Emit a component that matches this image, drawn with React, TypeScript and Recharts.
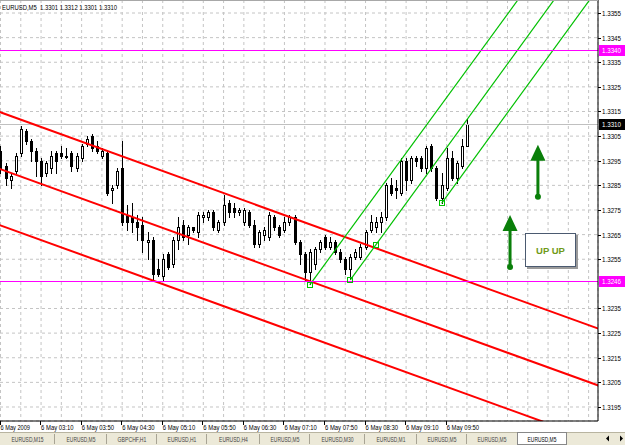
import React from "react";
import {
  ComposedChart,
  Bar,
  XAxis,
  YAxis,
  CartesianGrid,
  ReferenceLine,
  ReferenceDot,
} from "recharts";

const symbol = "EURUSD,M5";

// 5-minute bars, 6 May 2009 02:30 -> 10:10
const opens = [
  1.3299, 1.3293, 1.3287, 1.3291, 1.3298, 1.3307, 1.3303, 1.3299, 1.3295, 1.329,
  1.3292, 1.3298, 1.3298, 1.3297, 1.3298, 1.3292, 1.3296, 1.3302, 1.3305, 1.3301,
  1.3297, 1.3298, 1.3283, 1.3285, 1.3292, 1.3273, 1.3272, 1.327, 1.3269, 1.3262,
  1.3263, 1.3251, 1.3248, 1.3257, 1.3253, 1.3263, 1.3269, 1.3265, 1.3268, 1.3266,
  1.3272, 1.3272, 1.3274, 1.3267, 1.327, 1.3278, 1.3276, 1.3274, 1.327, 1.3274,
  1.3269, 1.3261, 1.3265, 1.3264, 1.3272, 1.3268, 1.3267, 1.327, 1.3272, 1.3262,
  1.3257, 1.325, 1.3253, 1.3259, 1.3264, 1.326, 1.3262, 1.3258, 1.3255, 1.3251,
  1.3256, 1.3256, 1.326, 1.3267, 1.3268, 1.327, 1.3272, 1.3285, 1.3284, 1.3282,
  1.3295, 1.3287, 1.3296, 1.3296, 1.3292, 1.3301, 1.3292, 1.328, 1.3284, 1.3296,
  1.3288, 1.3293, 1.3301,
];
const highs = [
  1.3301, 1.3294, 1.329, 1.3298, 1.3309, 1.3308, 1.3304, 1.33, 1.3296, 1.3295,
  1.3299, 1.3299, 1.3301, 1.33, 1.3299, 1.3298, 1.3302, 1.3305, 1.3306, 1.3303,
  1.33, 1.3299, 1.3285, 1.3292, 1.3303, 1.3277, 1.3278, 1.3273, 1.3272, 1.3266,
  1.3264, 1.3255, 1.3257, 1.3258, 1.3264, 1.3272, 1.3271, 1.3269, 1.3268, 1.3274,
  1.3274, 1.3275, 1.3275, 1.3271, 1.3281, 1.3279, 1.3278, 1.3276, 1.3276, 1.3275,
  1.3271, 1.3267, 1.3268, 1.3274, 1.3273, 1.3269, 1.3272, 1.3273, 1.3273, 1.3263,
  1.3258, 1.3259, 1.326, 1.3263, 1.3265, 1.3264, 1.3263, 1.3259, 1.3256, 1.3257,
  1.3259, 1.3261, 1.3267, 1.3273, 1.3272, 1.3274, 1.3286, 1.3288, 1.3287, 1.3296,
  1.3296, 1.3297, 1.3297, 1.3297, 1.3301, 1.3302, 1.3293, 1.329, 1.33, 1.3299,
  1.3295, 1.3304, 1.3312,
];
const lows = [
  1.329, 1.3285, 1.3284, 1.329, 1.3297, 1.3302, 1.3295, 1.3289, 1.3285, 1.3289,
  1.329, 1.329, 1.3296, 1.3296, 1.3291, 1.3291, 1.3295, 1.3301, 1.3299, 1.3298,
  1.3296, 1.3281, 1.3278, 1.3284, 1.3269, 1.3267, 1.3266, 1.3263, 1.3258, 1.3255,
  1.3246, 1.3248, 1.3246, 1.3251, 1.3252, 1.3259, 1.3263, 1.3261, 1.3266, 1.3264,
  1.327, 1.3271, 1.3267, 1.3266, 1.3269, 1.3272, 1.3272, 1.3273, 1.3269, 1.3268,
  1.326, 1.326, 1.3263, 1.3263, 1.3267, 1.3264, 1.3266, 1.3269, 1.3261, 1.3253,
  1.3246, 1.3245, 1.3251, 1.3258, 1.3259, 1.3259, 1.3257, 1.3254, 1.3249, 1.3247,
  1.3255, 1.3255, 1.3259, 1.3266, 1.3266, 1.3266, 1.3271, 1.3281, 1.328, 1.3281,
  1.3283, 1.3286, 1.3293, 1.3291, 1.329, 1.3291, 1.3279, 1.3278, 1.3283, 1.3287,
  1.3286, 1.3292, 1.3301,
];
const closes = [
  1.3292, 1.3288, 1.3289, 1.3297, 1.3308, 1.3303, 1.3299, 1.3295, 1.3289, 1.3294,
  1.3297, 1.3295, 1.3297, 1.3297, 1.3293, 1.3297, 1.3301, 1.3304, 1.33, 1.3299,
  1.3299, 1.3282, 1.3284, 1.3291, 1.327, 1.327, 1.327, 1.3268, 1.3263, 1.3263,
  1.3249, 1.3249, 1.3255, 1.3252, 1.3263, 1.3268, 1.3264, 1.3268, 1.3267, 1.3273,
  1.3273, 1.3274, 1.3268, 1.327, 1.3277, 1.3274, 1.3274, 1.3275, 1.3275, 1.3269,
  1.3261, 1.3266, 1.3267, 1.3273, 1.3268, 1.3265, 1.327, 1.3272, 1.3262, 1.3257,
  1.325, 1.3258, 1.3259, 1.3262, 1.326, 1.3262, 1.3258, 1.3255, 1.3251, 1.3256,
  1.3258, 1.326, 1.3266, 1.327, 1.327, 1.3272, 1.3285, 1.3282, 1.3283, 1.3295,
  1.3287, 1.3296, 1.3295, 1.3292, 1.33, 1.3292, 1.328, 1.3285, 1.3296, 1.3288,
  1.3294, 1.3301, 1.331,
];

const dateTicks = [0, 8, 16, 24, 32, 40, 48, 56, 64, 72, 80, 88];
const dateLabels = [
  "6 May 2009", "6 May 03:10", "6 May 03:50", "6 May 04:30", "6 May 05:10", "6 May 05:50",
  "6 May 06:30", "6 May 07:10", "6 May 07:50", "6 May 08:30", "6 May 09:10", "6 May 09:50",
];
const gridTicks = Array.from({ length: 30 }, (_, k) => k * 4);
const priceTicks = [
  1.3355, 1.3345, 1.3335, 1.3325, 1.3315, 1.3305, 1.3295, 1.3285, 1.3275, 1.3265,
  1.3255, 1.3235, 1.3225, 1.3215, 1.3205, 1.3195,
];
const magentaLevels = [1.334, 1.3246];

// trend objects: [bar index, price] anchor pairs
const redChannel = [
  [[-1, 1.33154], [119, 1.3226]],
  [[-1, 1.32923], [119, 1.32029]],
  [[-1, 1.32695], [119, 1.31801]],
];
const greenChannel = [
  [[61, 1.32446], [103, 1.3363]],
  [[69, 1.32466], [112, 1.33683]],
  [[87, 1.32777], [118, 1.33654]],
];
const greenAnchors = [[61, 1.32446], [69, 1.32466], [74, 1.32608], [87, 1.32777]];
const upArrows = [[106, 1.32804], [100.5, 1.32519]];
const labelText = "UP UP";

const tabs = [
  "EURUSD,M15", "EURUSD,M5", "GBPCHF,H1", "EURUSD,H1", "EURUSD,H4", "EURUSD,M5",
  "EURUSD,M30", "EURUSD,M1", "EURUSD,M5", "EURUSD,M5", "EURUSD,M5",
];
const tabWidths = [55, 52, 50, 50, 53, 50, 55, 52, 50, 50, 50];
const activeTab = 10;

const data = opens.map((o, i) => ({
  i,
  o,
  h: highs[i],
  l: lows[i],
  c: closes[i],
  range: [lows[i], highs[i]],
}));

const FONT = '"Liberation Sans", Arial, sans-serif';
const FS = 7;

const Candle = (props: any) => {
  const { x, y, width, height, payload } = props;
  const { o, h, l, c } = payload;
  const top = Math.min(y, y + height);
  const bot = Math.max(y, y + height);
  const k = h === l ? 0 : (bot - top) / (h - l);
  const yO = top + (h - o) * k;
  const yC = top + (h - c) * k;
  const px = Math.round(x + width / 2);
  const bTop = Math.round(Math.min(yO, yC));
  const bBot = Math.max(Math.round(Math.max(yO, yC)), bTop + 1);
  return (
    <g>
      <line x1={px + 0.5} x2={px + 0.5} y1={Math.round(top)} y2={Math.round(bot) + 1} stroke="#000" strokeWidth={1} />
      {c >= o ? (
        <rect x={px - 0.5} y={bTop + 0.5} width={2} height={Math.max(bBot - bTop, 1)} fill="#fff" stroke="#000" strokeWidth={1} />
      ) : (
        <rect x={px - 1} y={bTop} width={3} height={bBot - bTop + 1} fill="#000" />
      )}
    </g>
  );
};

// horizontal level snapped to a pixel row
const levelShape = (color: string) => (p: any) => {
  const yy = Math.round(p.y1) + 0.5;
  return <line x1={p.x1} x2={p.x2} y1={yy} y2={yy} stroke={color} strokeWidth={1} />;
};

const XTick = (props: any) => {
  const { x, y, payload } = props;
  const idx = dateTicks.indexOf(payload.value);
  if (idx < 0) return <g />;
  const t = dateLabels[idx];
  return (
    <g>
      <line x1={Math.round(x) - 0.5} x2={Math.round(x) - 0.5} y1={y} y2={y + 4} stroke="#000" />
      <text x={x} y={y + 8.5} fontSize={FS} fontFamily={FONT} fill="#000" textLength={t.length * 2.95} lengthAdjust="spacingAndGlyphs">
        {t}
      </text>
    </g>
  );
};

const YTick = (props: any) => {
  const { x, y, payload } = props;
  return (
    <g>
      <line x1={x} x2={x + 3} y1={Math.round(y) + 0.5} y2={Math.round(y) + 0.5} stroke="#000" />
      <text x={x + 4} y={y + 3} fontSize={FS} fontFamily={FONT} fill="#000" textLength={19} lengthAdjust="spacingAndGlyphs">
        {payload.value.toFixed(4)}
      </text>
    </g>
  );
};

const PriceTag = (props: any) => {
  const { viewBox, text, bg } = props;
  const { x, y, width } = viewBox;
  return (
    <g>
      <rect x={x + width + 1} y={Math.round(y) - 5} width={26} height={11} fill={bg} />
      <text x={x + width + 4} y={y + 3} fontSize={FS} fontFamily={FONT} fill="#fff" textLength={19} lengthAdjust="spacingAndGlyphs">
        {text}
      </text>
    </g>
  );
};

const UpArrow = (p: any) => {
  const { cx, cy } = p;
  return (
    <g fill="#0a7f0a">
      <circle cx={cx} cy={cy} r={3} />
      <rect x={cx - 1.5} y={cy - 38} width={3} height={38} />
      <polygon points={`${cx},${cy - 52} ${cx - 7.5},${cy - 36} ${cx + 7.5},${cy - 36}`} />
    </g>
  );
};

const AnchorBox = (p: any) => (
  <rect x={Math.round(p.cx) - 2.5} y={Math.round(p.cy) - 2.5} width={5} height={5} fill="none" stroke="#00c000" />
);

export default function App() {
  const last = data.length - 1;
  const header = `${symbol}  ${opens[last].toFixed(4)} ${highs[last].toFixed(4)} ${lows[last].toFixed(4)} ${closes[last].toFixed(4)}`;
  let tx = 0;
  const tabPos = tabWidths.map((w) => {
    const s = tx;
    tx += w;
    return s;
  });
  return (
    <div style={{ position: "absolute", left: 0, top: 0, width: 625, height: 445, background: "#fff", overflow: "hidden" }}>
      <ComposedChart width={625} height={445} data={data} margin={{ top: 0, right: 0, bottom: 0, left: 0 }}>
        <CartesianGrid stroke="#c4c4c4" strokeDasharray="3 3" />
        <XAxis
          type="number"
          dataKey="i"
          domain={[-0.1, 117.85]}
          ticks={gridTicks}
          interval={0}
          allowDataOverflow
          height={24}
          tickSize={0}
          tickMargin={0}
          tickLine={false}
          axisLine={{ stroke: "#000" }}
          tick={<XTick />}
        />
        <YAxis
          orientation="right"
          type="number"
          domain={[1.318931, 1.336028]}
          ticks={priceTicks}
          interval={0}
          allowDataOverflow
          width={27}
          tickSize={0}
          tickMargin={0}
          tickLine={false}
          axisLine={{ stroke: "#000" }}
          tick={<YTick />}
        />
        <Bar dataKey="range" barSize={3} shape={<Candle />} isAnimationActive={false} />
        <ReferenceLine
          y={closes[last]}
          stroke="#c0c0c0"
          shape={levelShape("#c0c0c0")}
          label={<PriceTag text={closes[last].toFixed(4)} bg="#000" />}
        />
        {redChannel.map((seg, k) => (
          <ReferenceLine
            key={"r" + k}
            segment={seg.map(([i, p]) => ({ x: i, y: p }))}
            stroke="#ff0000"
            strokeWidth={2}
            ifOverflow="hidden"
          />
        ))}
        {greenChannel.map((seg, k) => (
          <ReferenceLine
            key={"g" + k}
            segment={seg.map(([i, p]) => ({ x: i, y: p }))}
            stroke="#00c000"
            strokeWidth={1.2}
            ifOverflow="hidden"
          />
        ))}
        {magentaLevels.map((v) => (
          <ReferenceLine
            key={"m" + v}
            y={v}
            stroke="#ff00ff"
            shape={levelShape("#ff00ff")}
            label={<PriceTag text={v.toFixed(4)} bg="#ff00ff" />}
          />
        ))}
        {greenAnchors.map(([i, p], k) => (
          <ReferenceDot key={"a" + k} x={i} y={p} r={3} shape={AnchorBox} />
        ))}
        {upArrows.map(([i, p], k) => (
          <ReferenceDot key={"u" + k} x={i} y={p} r={3} shape={UpArrow} />
        ))}
      </ComposedChart>

      <svg width={625} height={445} style={{ position: "absolute", left: 0, top: 0, pointerEvents: "none" }}>
        <line x1={0} x2={598} y1={0.5} y2={0.5} stroke="#a8a8a8" />
        <text x={2} y={9.5} fontSize={FS} fontFamily={FONT} fill="#000" textLength={115} lengthAdjust="spacingAndGlyphs" xmlSpace="preserve">
          {header}
        </text>
        <rect x={0} y={432} width={625} height={13} fill="#ece9d8" />
        <line x1={0} x2={625} y1={432.5} y2={432.5} stroke="#b8b4a0" />
        {tabs.map((t, k) => {
          const x0 = tabPos[k];
          const w = tabWidths[k];
          const active = k === activeTab;
          return (
            <g key={k}>
              {active && <rect x={x0 + 0.5} y={432.5} width={w - 1} height={12} fill="#fff" stroke="#888" />}
              {!active && k + 1 !== activeTab && (
                <line x1={x0 + w - 0.5} x2={x0 + w - 0.5} y1={434} y2={444} stroke="#a8a494" />
              )}
              <text
                x={x0 + w / 2}
                y={441.5}
                textAnchor="middle"
                fontSize={FS}
                fontFamily={FONT}
                fill={active ? "#000" : "#444"}
                textLength={t.length * 3.2}
                lengthAdjust="spacingAndGlyphs"
              >
                {t}
              </text>
            </g>
          );
        })}
        <polygon points="606,438.5 609,435.5 609,441.5" fill="#000" />
        <polygon points="620,435.5 623,438.5 620,441.5" fill="#000" />
      </svg>

      <div
        style={{
          position: "absolute",
          left: 525,
          top: 233,
          width: 49,
          height: 32,
          background: "#fff",
          border: "1px solid #4b5a70",
          boxShadow: "2px 2px 0 #9a9a9a",
          display: "flex",
          alignItems: "center",
          justifyContent: "center",
          fontFamily: FONT,
          fontWeight: "bold",
          fontSize: 9.5,
          color: "#6f9a18",
        }}
      >
        {labelText}
      </div>
    </div>
  );
}
